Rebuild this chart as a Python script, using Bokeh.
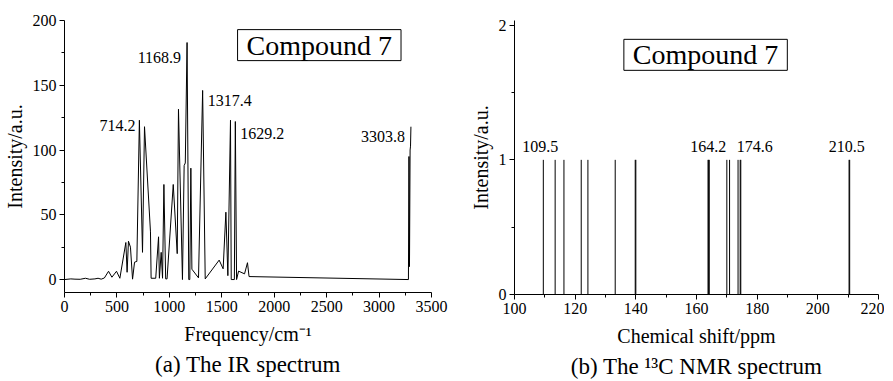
from bokeh.plotting import figure
from bokeh.models import Range1d, Label, Title, ColumnDataSource, FixedTicker
from bokeh.layouts import row
from bokeh.embed import file_html
from bokeh.resources import INLINE
from bokeh.core.properties import value

# ---------------- data ----------------
ir_freq = [0, 60, 100, 150, 200, 240, 290, 320, 350, 380, 420, 452, 496, 528, 585, 597, 610, 629,
           649, 668, 690, 714.2, 744, 763, 820, 826, 870, 897, 905, 922, 935, 948, 965, 978, 1037,
           1075, 1087, 1125, 1141, 1152, 1168.9, 1185, 1195, 1205, 1215, 1278, 1317.4, 1342, 1475,
           1513, 1539, 1558, 1583, 1590, 1620, 1629.2, 1641, 1660, 1717, 1745, 1760, 3280, 3285,
           3290, 3296, 3300, 3303.8]
ir_int = [0, 0.5, 0.3, 0.2, 1.0, 0.2, 0.5, 1.0, 0.3, 1.2, 6.4, 1.8, 6.4, 1.0, 28.6, 5.6, 29.6, 25,
          0.3, 13.4, 14, 123, 21, 118, 36.8, 1, 1, 33, 1, 21, 1, 73.4, 0.5, 0.5, 73.4,
          20, 131.5, 0, 88, 90, 183, 0, 0, 86, 8, 1.3, 146, 0.5, 15,
          8.3, 52, 3, 123, 0, 0, 122, 0, 6.5, 4.4, 13, 2.3, 0, 95,
          10, 100, 103, 118]

ir_label_text = ["714.2", "1168.9", "1317.4", "1629.2", "3303.8"]
ir_label_x = [714.2, 1168.9, 1317.4, 1629.2, 3303.8]
ir_label_y = [123, 183, 146, 122, 118]

nmr_shift = [109.5, 113.4, 116.3, 122.0, 124.2, 133.2, 139.8, 140.0, 163.8, 164.0, 164.2,
             170.0, 170.9, 173.7, 174.4, 174.6, 210.3, 210.5]
nmr_int = [1] * len(nmr_shift)
nmr_label_text = ["109.5", "164.2", "174.6", "210.5"]
nmr_label_x = [109.5, 164.2, 174.6, 210.5]
nmr_label_y = [1, 1, 1, 1]

compound_name = "Compound 7"

FONT = "'Liberation Serif'"


def style(p, xticks, yticks):
    p.xgrid.visible = False
    p.ygrid.visible = False
    p.outline_line_color = None
    p.background_fill_color = "white"
    p.border_fill_color = "white"
    for ax in (p.xaxis[0], p.yaxis[0]):
        ax.axis_line_color = "black"
        ax.major_tick_line_color = "black"
        ax.minor_tick_line_color = "black"
        ax.major_tick_in = 0
        ax.major_tick_out = 5
        ax.minor_tick_in = 0
        ax.minor_tick_out = 3
        ax.major_label_standoff = 3
        ax.axis_label_standoff = 4
        ax.major_label_text_font = FONT
        ax.major_label_text_font_size = "16px"
        ax.major_label_text_color = "black"
        ax.axis_label_text_font = FONT
        ax.axis_label_text_font_size = "20px"
        ax.axis_label_text_font_style = "normal"
        ax.axis_label_text_color = "black"
    p.xaxis[0].major_label_standoff = 3
    p.xaxis[0].axis_label_standoff = 8
    p.xaxis[0].ticker = xticks
    p.yaxis[0].ticker = yticks
    p.yaxis[0].axis_label = "Intensity/a.u."


def caption(text):
    return Title(text=text, align="center", text_font=FONT, text_font_size="23px",
                 text_font_style="normal", text_color="black", standoff=4)


def boxed(x, y):
    return Label(x=x, y=y, text=compound_name, text_align="center", text_baseline="middle",
                 text_font=FONT, text_font_size="28px", text_color="black",
                 border_line_color="black", background_fill_color="white",
                 padding=dict(left=9, right=9, top=0, bottom=0))


# ---------------- IR figure ----------------
p1 = figure(frame_width=367, frame_height=272, output_backend="svg", toolbar_location=None,
            x_range=Range1d(0, 3500), y_range=Range1d(-10, 200),
            min_border_left=57, min_border_right=18, min_border_top=20, min_border_bottom=88)
p1.line(ir_freq, ir_int, line_color="black", line_width=1)
style(p1, FixedTicker(ticks=[0, 500, 1000, 1500, 2000, 2500, 3000, 3500],
                      minor_ticks=[250, 750, 1250, 1750, 2250, 2750, 3250]),
      FixedTicker(ticks=[0, 50, 100, 150, 200], minor_ticks=[25, 75, 125, 175]))
p1.xaxis[0].axis_label = "Frequency/cm\u207b\u00b9"

ir_xo = [-4, -6, 5, 5, -6]
ir_yo = [5, 15, 10, 12, 10]
for idxs, align in (([0, 1, 4], "right"), ([2, 3], "left")):
    s = ColumnDataSource(dict(x=[ir_label_x[i] for i in idxs], y=[ir_label_y[i] for i in idxs],
                              t=[ir_label_text[i] for i in idxs],
                              xo=[ir_xo[i] for i in idxs], yo=[ir_yo[i] for i in idxs]))
    p1.text(x="x", y="y", text="t", source=s, x_offset="xo", y_offset="yo",
            text_align=align, text_baseline="middle", text_font=value(FONT),
            text_font_size="16px", text_color="black")

p1.add_layout(boxed(2430, 181))
p1.add_layout(caption("(a) The IR spectrum"), "below")

# ---------------- NMR figure ----------------
# frame tops of the two plots are aligned by the row, so the y-range is extended a little
p2 = figure(frame_width=364, frame_height=274, output_backend="svg", toolbar_location=None,
            x_range=Range1d(100, 220), y_range=Range1d(0, 2.035),
            min_border_left=65, min_border_right=6, min_border_top=20, min_border_bottom=86)
p2.segment(x0=nmr_shift, y0=[0] * len(nmr_shift), x1=nmr_shift, y1=nmr_int,
           line_color="black", line_width=1)
style(p2, FixedTicker(ticks=[100, 120, 140, 160, 180, 200, 220],
                      minor_ticks=[110, 130, 150, 170, 190, 210]),
      FixedTicker(ticks=[0, 1, 2], minor_ticks=[0.5, 1.5]))
p2.xaxis[0].axis_label = "Chemical shift/ppm"

nmr_xo = [-3, -1, -4, -3]
for idxs, align in (([0, 1, 3], "center"), ([2], "left")):
    p2.text(x=[nmr_label_x[i] for i in idxs], y=[nmr_label_y[i] for i in idxs],
            text=[nmr_label_text[i] for i in idxs], x_offset=[nmr_xo[i] for i in idxs],
            y_offset=-13, text_align=align, text_baseline="middle",
            text_font=value(FONT), text_font_size="16px", text_color="black")

p2.add_layout(boxed(163, 1.78))
p2.add_layout(caption("(b) The \u00b9\u00b3C NMR spectrum"), "below")

layout = row(p1, p2)
open("out.html", "w").write(file_html(layout, INLINE))
